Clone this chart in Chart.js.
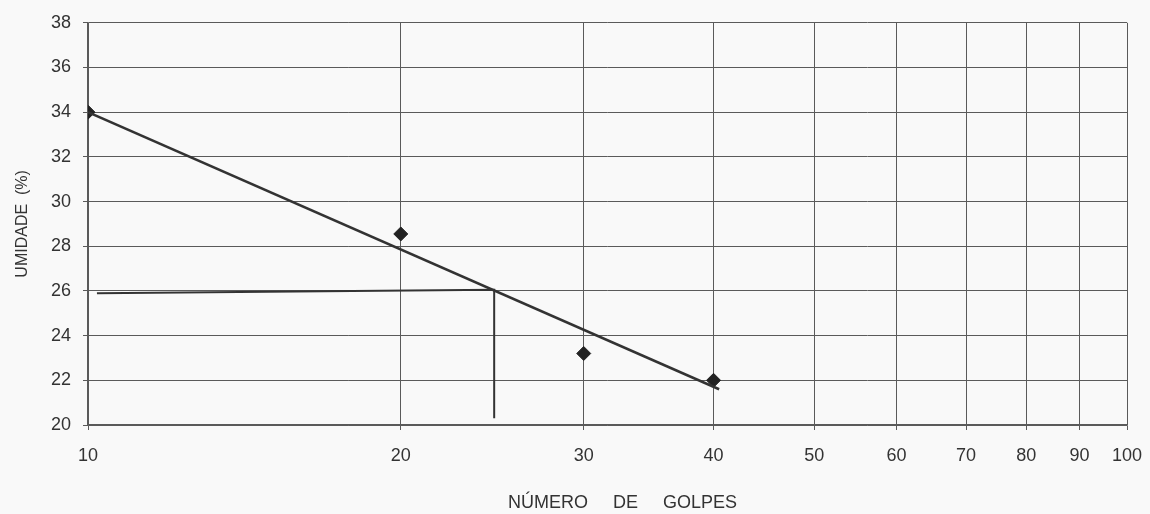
<!DOCTYPE html>
<html>
<head>
<meta charset="utf-8">
<script src="https://cdn.jsdelivr.net/npm/chart.js@4"></script>
<style>
  html, body { margin: 0; padding: 0; background: #f9f9f9; }
  #wrap { width: 1150px; height: 514px; }
</style>
</head>
<body>
<div id="wrap"><canvas id="golpesChart" width="1150" height="514"></canvas></div>
<script>
  // ensaio de limite de liquidez - leitura do gráfico
  const golpes = [10, 20, 30, 40];
  const umidade = [34, 28.55, 23.2, 22];
  const retaX = [10, 40.5];
  const retaY = [34, 21.6];
  const guiaX = [10.2, 24.6, 24.6];
  const guiaY = [25.9, 26.05, 20.3];
  const xTicks = [10, 20, 30, 40, 50, 60, 70, 80, 90, 100];
  const yTicks = [20, 22, 24, 26, 28, 30, 32, 34, 36, 38];

  const toPts = (xs, ys) => xs.map((x, i) => ({ x, y: ys[i] }));
  const gridColor = "#5a5a5a";
  const textColor = "#333";
  const fam = "Liberation Sans, Arial, sans-serif";

  new Chart(document.getElementById("golpesChart"), {
    type: "scatter",
    data: {
      datasets: [
        {
          label: "guia",
          data: toPts(guiaX, guiaY),
          showLine: true,
          borderColor: "#333",
          borderWidth: 2,
          pointRadius: 0,
          tension: 0
        },
        {
          label: "reta",
          data: toPts(retaX, retaY),
          showLine: true,
          borderColor: "#333",
          borderWidth: 2.5,
          pointRadius: 0,
          tension: 0
        },
        {
          label: "ensaios",
          data: toPts(golpes, umidade),
          showLine: false,
          pointStyle: "rectRot",
          pointRadius: 7,
          backgroundColor: "#222",
          borderColor: "#222",
          borderWidth: 1
        }
      ]
    },
    options: {
      responsive: false,
      animation: false,
      events: [],
      layout: { padding: { left: 0, top: 20, right: 23, bottom: 0 } },
      plugins: { legend: { display: false }, tooltip: { enabled: false } },
      scales: {
        x: {
          type: "logarithmic",
          min: 10,
          max: 100,
          afterBuildTicks: (s) => { s.ticks = xTicks.map((v) => ({ value: v })); },
          afterFit: (s) => { s.height = 89; s.paddingLeft = 0; s.paddingRight = 0; },
          grid: { color: gridColor, lineWidth: 1, tickLength: 5, tickColor: gridColor },
          border: { color: gridColor, width: 1.5 },
          ticks: {
            color: textColor,
            font: { family: fam, size: 18 },
            padding: 15,
            maxRotation: 0,
            autoSkip: false,
            callback: (v) => String(v)
          },
          title: {
            display: true,
            text: "      NÚMERO     DE     GOLPES",
            color: textColor,
            font: { family: fam, size: 18 },
            padding: { top: 0, bottom: 0 }
          }
        },
        y: {
          min: 20,
          max: 38,
          afterBuildTicks: (s) => { s.ticks = yTicks.map((v) => ({ value: v })); },
          afterFit: (s) => { s.width = 88; },
          grid: { color: gridColor, lineWidth: 1, tickLength: 5, tickColor: gridColor },
          border: { color: gridColor, width: 1.5 },
          ticks: {
            color: textColor,
            font: { family: fam, size: 18 },
            padding: 12
          },
          title: {
            display: true,
            text: "UMIDADE  (%)",
            color: textColor,
            font: { family: fam, size: 16 },
            padding: { top: 13, bottom: 0 }
          }
        }
      }
    }
  });
</script>
</body>
</html>
